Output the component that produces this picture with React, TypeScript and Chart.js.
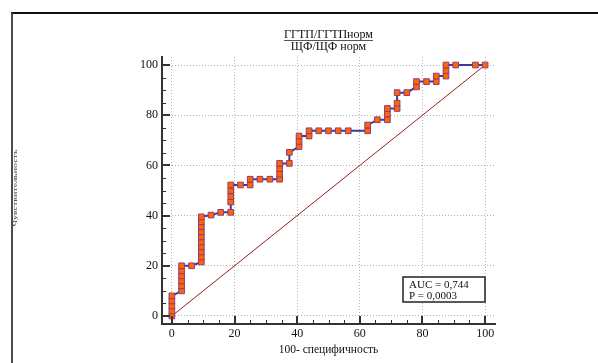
import React, { useEffect, useRef } from "react";
import { Chart, registerables } from "chart.js";
Chart.register(...registerables);

const TITLE_1 = "ГГТП/ГГТПнорм";
const TITLE_2 = "ЩФ/ЩФ норм";
const X_LABEL = "100- специфичность";
const Y_LABEL = "Чувствительность";
const STAT_LINES = ["AUC = 0,744", "P = 0,0003"];
const TICKS = [0, 20, 40, 60, 80, 100];

const SPEC100 = [
  0, 0, 0, 0, 0,
  3.1, 3.1, 3.1, 3.1, 3.1, 3.1,
  6.3,
  9.4, 9.4, 9.4, 9.4, 9.4, 9.4, 9.4, 9.4, 9.4, 9.4,
  12.5, 15.6,
  18.8, 18.8, 18.8, 18.8, 18.8,
  21.9,
  25, 25,
  28.1, 31.3,
  34.4, 34.4, 34.4, 34.4,
  37.5, 37.5,
  40.6, 40.6, 40.6,
  43.8, 43.8,
  46.9, 50, 53.1, 56.3,
  62.5, 62.5,
  65.6,
  68.8, 68.8, 68.8,
  71.9, 71.9, 71.9,
  75,
  78.1, 78.1,
  81.3,
  84.4, 84.4,
  87.5, 87.5, 87.5,
  90.6, 96.9, 100,
];
const SENS = [
  0, 2, 4, 6, 8,
  10, 12, 14, 16, 18, 20,
  20,
  21.5, 23.5, 25.5, 27.5, 29.5, 31.5, 33.5, 35.5, 37.5, 39.5,
  40.2, 41.3,
  41.3, 45.4, 47.6, 49.9, 52.2,
  52.2,
  52.2, 54.5,
  54.5, 54.5,
  54.5, 56.5, 58.7, 60.8,
  60.8, 65.2,
  67.5, 69.6, 71.7,
  71.7, 73.8,
  73.8, 73.8, 73.8, 73.8,
  73.8, 76.1,
  78.2,
  78.2, 80.5, 82.7,
  82.7, 84.8, 89.0,
  89.0,
  91.3, 93.4,
  93.4,
  93.4, 95.6,
  95.6, 97.8, 100,
  100, 100, 100,
];
const DIAG_X = [0, 100];
const DIAG_Y = [0, 100];

const SERIF = '"Liberation Serif", "Times New Roman", serif';

const decorPlugin = {
  id: "decor",
  afterDraw(chart: any) {
    const ctx = chart.ctx as CanvasRenderingContext2D;
    const xs = chart.scales.x;
    const ys = chart.scales.y;
    const area = chart.chartArea;
    ctx.save();
    // inward ticks
    for (let v = 0; v <= 100; v += 5) {
      const major = v % 20 === 0;
      const len = major ? 8 : 4;
      ctx.lineWidth = major ? 2 : 1;
      ctx.strokeStyle = "#333";
      const px = Math.round(xs.getPixelForValue(v)) + (major ? 0 : 0.5);
      ctx.beginPath();
      ctx.moveTo(px, area.bottom);
      ctx.lineTo(px, area.bottom - len);
      ctx.stroke();
      const py = Math.round(ys.getPixelForValue(v)) + (major ? 0 : 0.5);
      ctx.beginPath();
      ctx.moveTo(area.left, py);
      ctx.lineTo(area.left + len, py);
      ctx.stroke();
    }
    // titles
    const cx = (area.left + area.right) / 2;
    ctx.fillStyle = "#111";
    ctx.font = `12px ${SERIF}`;
    ctx.textAlign = "center";
    ctx.textBaseline = "middle";
    ctx.fillText(TITLE_1, cx, 34.5);
    const w = ctx.measureText(TITLE_1).width;
    ctx.strokeStyle = "#555";
    ctx.lineWidth = 1;
    ctx.beginPath();
    ctx.moveTo(cx - w / 2, 40.5);
    ctx.lineTo(cx + w / 2, 40.5);
    ctx.stroke();
    ctx.fillText(TITLE_2, cx, 47);
    // stats box
    const bx = 403, by = 277, bw = 82, bh = 25;
    ctx.fillStyle = "#fff";
    ctx.fillRect(bx, by, bw, bh);
    ctx.strokeStyle = "#222";
    ctx.lineWidth = 1.5;
    ctx.strokeRect(bx, by, bw, bh);
    ctx.fillStyle = "#111";
    ctx.font = `11px ${SERIF}`;
    ctx.textAlign = "left";
    ctx.fillText(STAT_LINES[0], bx + 6, by + 8.5);
    ctx.fillText(STAT_LINES[1], bx + 6, by + 19);
    // y label (tiny, rotated)
    ctx.translate(15, 188);
    ctx.rotate(-Math.PI / 2);
    ctx.font = `6px ${SERIF}`;
    const lw = ctx.measureText(Y_LABEL).width;
    ctx.scale(77 / lw, 1);
    ctx.textAlign = "center";
    ctx.fillStyle = "#333";
    ctx.fillText(Y_LABEL, 0, 0);
    ctx.restore();
  },
};

export default function App() {
  const ref = useRef<HTMLCanvasElement | null>(null);
  useEffect(() => {
    if (!ref.current) return;
    const rocPts = SPEC100.map((x, i) => ({ x, y: SENS[i] }));
    const diagPts = DIAG_X.map((x, i) => ({ x, y: DIAG_Y[i] }));
    const gridCommon = {
      color: "#b4b4b4",
      lineWidth: 1,
      drawTicks: false,
    };
    const chart = new Chart(ref.current, {
      type: "scatter",
      data: {
        datasets: [
          {
            data: rocPts,
            showLine: true,
            borderColor: "#3b3b9e",
            borderWidth: 2,
            pointStyle: "rect",
            pointRadius: 4,
            pointBackgroundColor: "#ff6600",
            pointBorderColor: "#8e3a80",
            pointBorderWidth: 1,
          },
          {
            data: diagPts,
            showLine: true,
            borderColor: "#9b1c1c",
            borderWidth: 1,
            pointRadius: 0,
          },
        ],
      },
      options: {
        animation: false,
        responsive: false,
        layout: { padding: { left: 0, right: 103, top: 57, bottom: 0 } },
        plugins: { legend: { display: false }, tooltip: { enabled: false }, title: { display: false } },
        scales: {
          x: {
            type: "linear",
            min: -3.15,
            max: 103.15,
            afterBuildTicks: (s: any) => {
              s.ticks = TICKS.map((v) => ({ value: v }));
            },
            afterFit: (s: any) => {
              s.height = 39;
            },
            grid: gridCommon,
            border: { display: true, color: "#333", width: 2, dash: [1, 2] },
            ticks: { color: "#111", font: { family: SERIF, size: 12 }, padding: 3, maxRotation: 0 },
            title: {
              display: true,
              text: X_LABEL,
              color: "#111",
              font: { family: SERIF, size: 11.5 },
              padding: { top: 0, bottom: 6 },
            },
          },
          y: {
            type: "linear",
            min: -3.2,
            max: 103.2,
            afterBuildTicks: (s: any) => {
              s.ticks = TICKS.map((v) => ({ value: v }));
            },
            afterFit: (s: any) => {
              s.width = 162;
            },
            grid: gridCommon,
            border: { display: true, color: "#333", width: 2, dash: [1, 2] },
            ticks: { color: "#111", font: { family: SERIF, size: 12 }, padding: 4 },
          },
        },
      },
      plugins: [decorPlugin],
    } as any);
    return () => chart.destroy();
  }, []);
  return (
    <div style={{ position: "fixed", left: 0, top: 0, width: 598, height: 363, background: "#fff", overflow: "hidden" }}>
      <div
        style={{
          position: "absolute",
          left: 11,
          top: 12,
          width: 700,
          height: 500,
          borderTop: "2px solid #111",
          borderLeft: "2px solid #4d4d4d",
        }}
      />
      <canvas ref={ref} width={598} height={363} style={{ position: "absolute", left: 0, top: 0, width: 598, height: 363 }} />
    </div>
  );
}
